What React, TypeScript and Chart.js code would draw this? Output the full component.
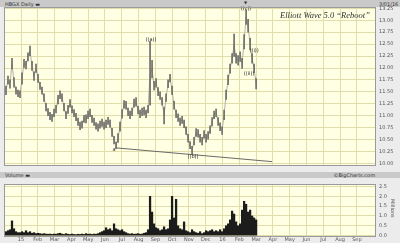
import React, { useEffect, useRef } from "react";
import { Chart, registerables } from "chart.js";
Chart.register(...registerables);

// x axis in months counted from 1 Jan 2015 (0 = Jan 2015, 14 = Mar 2016)
const monthLabels = ["15", "Feb", "Mar", "Apr", "May", "Jun", "Jul", "Aug", "Sep", "Oct", "Nov", "Dec", "16", "Feb", "Mar", "Apr", "May", "Jun", "Jul", "Aug", "Sep"];
const priceTicks = [10.0, 10.25, 10.5, 10.75, 11.0, 11.25, 11.5, 11.75, 12.0, 12.25, 12.5, 12.75, 13.0, 13.25];
const volumeTicks = [0, 0.5, 1.0, 1.5, 2.0, 2.5];

// samples every ~3.6 calendar days from early Dec 2014 to 1 Mar 2016
const sampleStartMonth = -0.8936;
const sampleStepMonth = 0.11915;

const priceHigh = [
  11.62, 11.83, 11.75, 12.20, 11.80, 11.60, 11.54, 11.52, 11.90, 12.18,
  12.14, 12.32, 12.46, 12.14, 11.92, 12.08, 11.87, 11.70, 11.60, 11.46,
  11.26, 11.15, 11.07, 11.03, 11.14, 11.22, 11.43, 11.52, 11.46, 11.26,
  11.09, 11.22, 11.34, 11.21, 11.13, 11.05, 10.95, 10.87, 10.89, 11.01,
  11.02, 11.10, 11.14, 11.01, 10.95, 10.86, 10.83, 10.89, 10.93, 10.87,
  10.91, 10.97, 10.91, 10.74, 10.57, 10.45, 10.63, 10.87, 11.13, 11.32,
  11.30, 11.16, 11.10, 11.16, 11.35, 11.38, 11.20, 11.12, 11.16, 11.18,
  11.12, 11.22, 12.56, 12.16, 11.72, 11.78, 11.59, 11.50, 11.38, 11.18,
  11.46, 11.75, 11.87, 11.62, 11.30, 11.12, 11.04, 10.95, 10.99, 10.91,
  10.77, 10.61, 10.46, 10.36, 10.55, 10.73, 10.71, 10.61, 10.55, 10.69,
  10.61, 10.67, 10.79, 10.96, 11.10, 11.14, 10.96, 10.85, 10.77, 11.12,
  11.54, 11.85, 12.08, 12.30, 12.71, 12.30, 12.26, 12.34, 12.20, 12.70,
  13.22, 13.02, 12.62, 12.30, 12.08, 11.78,
];
const priceLow = [
  11.44, 11.66, 11.58, 11.98, 11.60, 11.45, 11.40, 11.38, 11.66, 12.01,
  11.98, 12.15, 12.26, 11.95, 11.74, 11.91, 11.70, 11.55, 11.45, 11.30,
  11.10, 11.00, 10.92, 10.88, 10.98, 11.06, 11.25, 11.36, 11.30, 11.10,
  10.94, 11.05, 11.18, 11.06, 10.98, 10.90, 10.80, 10.71, 10.74, 10.86,
  10.85, 10.94, 10.98, 10.86, 10.80, 10.72, 10.68, 10.74, 10.78, 10.72,
  10.75, 10.82, 10.76, 10.57, 10.41, 10.31, 10.44, 10.68, 10.95, 11.16,
  11.14, 11.00, 10.94, 11.00, 11.18, 11.20, 11.04, 10.96, 11.00, 11.02,
  10.96, 11.06, 11.22, 11.79, 11.54, 11.60, 11.42, 11.34, 11.22, 10.83,
  11.30, 11.59, 11.71, 11.44, 11.14, 10.96, 10.88, 10.80, 10.84, 10.75,
  10.61, 10.45, 10.31, 10.20, 10.39, 10.57, 10.55, 10.45, 10.39, 10.53,
  10.45, 10.51, 10.63, 10.79, 10.94, 10.98, 10.80, 10.69, 10.61, 10.92,
  11.34, 11.65, 11.89, 12.10, 12.24, 12.10, 12.06, 12.14, 11.99, 12.40,
  12.91, 12.75, 12.38, 12.10, 11.90, 11.56,
];
// volume in millions of shares
const volumeMillions = [
  0.2, 0.25, 0.3, 0.75, 0.35, 0.2, 0.15, 0.15, 0.2, 0.15,
  0.25, 0.15, 0.2, 0.12, 0.15, 0.1, 0.12, 0.1, 0.08, 0.1,
  0.08, 0.07, 0.08, 0.06, 0.08, 0.07, 0.1, 0.12, 0.08, 0.06,
  0.1, 0.07, 0.06, 0.08, 0.06, 0.05, 0.07, 0.06, 0.08, 0.06,
  0.1, 0.07, 0.08, 0.06, 0.08, 0.07, 0.1, 0.15, 0.2, 0.25,
  0.4, 0.3, 0.35, 0.25, 0.6, 0.35, 0.3, 0.25, 0.3, 0.2,
  0.15, 0.1, 0.08, 0.1, 0.07, 0.08, 0.1, 0.07, 0.08, 0.12,
  0.15, 0.3, 2.0, 1.2, 0.6, 0.4, 0.35, 0.25, 0.3, 0.45,
  0.3, 0.35, 0.8, 2.0, 0.9, 1.85, 0.5, 0.35, 0.3, 0.7,
  0.25, 0.2, 0.15, 0.3, 0.2, 0.15, 0.12, 0.2, 0.1, 0.15,
  0.25, 0.2, 0.25, 0.3, 0.2, 0.25, 0.2, 0.3, 0.2, 0.35,
  0.5, 0.6, 0.8, 1.25, 1.1, 0.7, 0.5, 0.6, 1.3, 1.75,
  1.6, 1.2, 1.3, 1.0, 0.9, 0.8,
];

const trendMonths = [5.6, 14.95];
const trendPrices = [10.33, 10.04];

const waveText = ["((a))", "a", "((b))", "((c))", "((i))", "((ii))"];
const waveMonths = [7.74, 5.54, 10.24, 13.40, 13.88, 13.58];
const wavePrices = [12.60, 10.28, 10.14, 13.24, 12.36, 11.89];

const X_MIN = -0.953;
const X_MAX = 21.08;
const GRID = "#E2DEAC";
const PLOT_BG = "#FFFFE3";
const FONT = "'DejaVu Sans', sans-serif";

const monthAt = (i: number) => sampleStartMonth + i * sampleStepMonth;

const plotFrame = {
  id: "plotFrame",
  beforeDraw(chart: any) {
    const { ctx, chartArea: a } = chart;
    ctx.save();
    ctx.fillStyle = PLOT_BG;
    ctx.fillRect(a.left, a.top, a.right - a.left, a.bottom - a.top);
    ctx.restore();
  },
  afterDraw(chart: any) {
    const { ctx, chartArea: a } = chart;
    ctx.save();
    ctx.strokeStyle = "#9a9a9a";
    ctx.lineWidth = 1;
    ctx.strokeRect(Math.round(a.left) - 0.5, Math.round(a.top) - 0.5, Math.round(a.right - a.left) + 1, Math.round(a.bottom - a.top) + 1);
    ctx.restore();
  },
};

const waveLabelPlugin = {
  id: "waveLabels",
  afterDatasetsDraw(chart: any) {
    const { ctx, scales } = chart;
    ctx.save();
    ctx.fillStyle = "#222";
    ctx.font = `5px ${FONT}`;
    ctx.textAlign = "center";
    ctx.textBaseline = "middle";
    waveText.forEach((t, i) => {
      ctx.fillText(t, scales.x.getPixelForValue(waveMonths[i]), scales.y.getPixelForValue(wavePrices[i]));
    });
    ctx.restore();
  },
};

const xScale = (showLabels: boolean, height: number) => ({
  type: "linear" as const,
  min: X_MIN,
  max: X_MAX,
  offset: false,
  afterBuildTicks(s: any) {
    s.ticks = monthLabels.map((_, i) => ({ value: i }));
  },
  afterFit(s: any) {
    s.height = height;
  },
  ticks: {
    display: showLabels,
    autoSkip: false,
    maxRotation: 0,
    padding: 1,
    color: "#555",
    font: { size: 5, family: FONT },
    callback: (v: any) => monthLabels[Math.round(Number(v))] ?? "",
  },
  grid: { color: GRID, drawTicks: false, offset: false },
  border: { display: false },
});

export default function App() {
  const mainRef = useRef<HTMLCanvasElement>(null);
  const volRef = useRef<HTMLCanvasElement>(null);

  useEffect(() => {
    const mids = priceHigh.map((h, i) => (h + priceLow[i]) / 2);
    const main = new Chart(mainRef.current!, {
      type: "bar",
      data: {
        datasets: [
          {
            type: "line",
            data: mids.map((m, i) => ({ x: monthAt(i), y: m })),
            borderColor: "#b4b3a8",
            borderWidth: 1,
            pointRadius: 0,
            order: 2,
          } as any,
          {
            type: "bar",
            data: priceHigh.map((h, i) => ({ x: monthAt(i), y: [priceLow[i], h] })),
            backgroundColor: "#6e6e6a",
            barThickness: 1,
            order: 1,
          } as any,
          {
            type: "line",
            data: trendMonths.map((m, i) => ({ x: m, y: trendPrices[i] })),
            borderColor: "#6a6a6a",
            borderWidth: 1,
            pointRadius: 0,
            order: 0,
          } as any,
        ],
      },
      options: {
        animation: false,
        responsive: false,
        devicePixelRatio: 1,
        layout: { padding: { left: 5, top: 8, right: 0, bottom: 2.5 } },
        plugins: { legend: { display: false }, tooltip: { enabled: false } },
        scales: {
          x: xScale(false, 0) as any,
          y: {
            position: "right",
            min: 9.97,
            max: 13.256,
            afterBuildTicks(s: any) {
              s.ticks = priceTicks.map((v) => ({ value: v }));
            },
            afterFit(s: any) {
              s.width = 25;
            },
            ticks: {
              padding: 4,
              color: "#555",
              font: { size: 5, family: FONT },
              callback: (v: any) => Number(v).toFixed(2),
            },
            grid: { color: GRID, drawTicks: false },
            border: { display: false },
          },
        },
      },
      plugins: [plotFrame, waveLabelPlugin],
    });

    const vol = new Chart(volRef.current!, {
      type: "bar",
      data: {
        datasets: [
          {
            data: volumeMillions.map((v, i) => ({ x: monthAt(i), y: v })),
            backgroundColor: "#1c1c1c",
            barThickness: 1.6,
          } as any,
        ],
      },
      options: {
        animation: false,
        responsive: false,
        devicePixelRatio: 1,
        layout: { padding: { left: 5, top: 2, right: 0, bottom: 0 } },
        plugins: { legend: { display: false }, tooltip: { enabled: false } },
        scales: {
          x: xScale(true, 7) as any,
          y: {
            position: "right",
            min: -0.02,
            max: 2.58,
            afterBuildTicks(s: any) {
              s.ticks = volumeTicks.map((v) => ({ value: v }));
            },
            afterFit(s: any) {
              s.width = 25;
            },
            ticks: {
              padding: 4,
              color: "#555",
              font: { size: 5, family: FONT },
              callback: (v: any) => Number(v).toFixed(1),
            },
            grid: { color: GRID, drawTicks: false },
            border: { display: false },
          },
        },
      },
      plugins: [plotFrame],
    });

    return () => {
      main.destroy();
      vol.destroy();
    };
  }, []);

  const bar: React.CSSProperties = {
    position: "absolute",
    left: 0,
    width: 400,
    background: "#C9C9C9",
    fontFamily: FONT,
    fontSize: 5,
    color: "#333",
    lineHeight: "6px",
  };

  return (
    <div style={{ position: "fixed", left: 0, top: 0, width: 400, height: 243, background: "#ECECEC", overflow: "hidden" }}>
      <div style={{ ...bar, top: 0, height: 7 }}>
        <span style={{ position: "absolute", left: 5, top: 1 }}>HBGX Daily ▬</span>
        <span style={{ position: "absolute", left: 244, top: 0, fontSize: 4 }}>▼</span>
        <span style={{ position: "absolute", left: 379, top: 1 }}>3/01/16</span>
      </div>
      <canvas ref={mainRef} width={400} height={172} style={{ position: "absolute", left: 0, top: 0 }} />
      <div
        style={{
          position: "absolute",
          left: 280,
          top: 10,
          fontFamily: "'Liberation Serif', serif",
          fontStyle: "italic",
          fontSize: 8.5,
          color: "#333",
          whiteSpace: "nowrap",
        }}
      >
        Elliott Wave 5.0 “Reboot”
      </div>
      <div style={{ ...bar, top: 172, height: 6 }}>
        <span style={{ position: "absolute", left: 5, top: 0 }}>Volume ▬</span>
        <span style={{ position: "absolute", right: 25, top: 0 }}>©BigCharts.com</span>
      </div>
      <canvas ref={volRef} width={400} height={65} style={{ position: "absolute", left: 0, top: 178 }} />
      <div
        style={{
          position: "absolute",
          left: 390,
          top: 199,
          writingMode: "vertical-rl",
          fontFamily: FONT,
          fontSize: 5,
          color: "#555",
        }}
      >
        Millions
      </div>
    </div>
  );
}
